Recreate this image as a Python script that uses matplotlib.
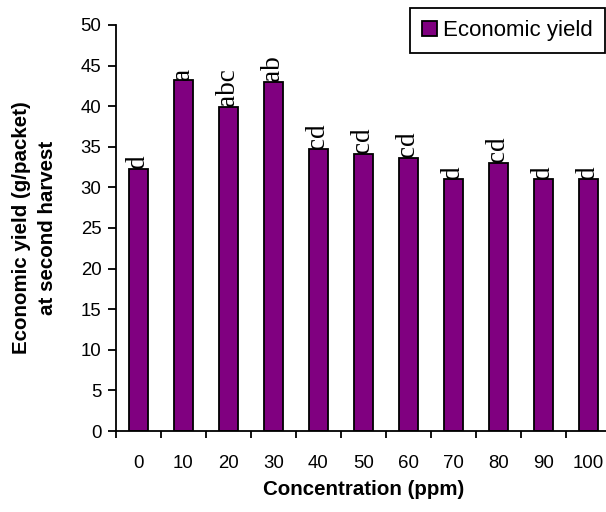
import matplotlib
matplotlib.use("Agg")
import matplotlib.pyplot as plt
import numpy as np

# values
concentrations = ["0", "10", "20", "30", "40", "50", "60", "70", "80", "90", "100"]
yield_values = [32.3, 43.2, 39.9, 43.0, 34.7, 34.1, 33.6, 31.0, 33.0, 31.0, 31.0]
letters = ["d", "a", "abc", "ab", "cd", "cd", "cd", "d", "cd", "d", "d"]
y_ticks = [0, 5, 10, 15, 20, 25, 30, 35, 40, 45, 50]

sans = "Liberation Sans"
serif = "Liberation Serif"

fig = plt.figure(figsize=(6.06, 5.12), dpi=100)
# axes runs slightly past the right edge, as in the cropped original
ax = fig.add_axes([116 / 606, 1 - 431 / 512, 495 / 606, 406 / 512])

x = np.arange(len(concentrations))
bars = ax.bar(x, yield_values, width=0.41, color="#800080", edgecolor="black",
              linewidth=1.3, label="Economic yield", zorder=2)

for xi, val, lab in zip(x, yield_values, letters):
    ax.annotate(lab, (xi, val), xytext=(-1, 0.5), textcoords="offset points",
                rotation=90, ha="center", va="bottom",
                fontsize=19.5, family=serif)

ax.set_xlim(-0.5, len(concentrations) - 0.5)
ax.set_ylim(0, 50)
ax.set_yticks(y_ticks)
ax.set_yticklabels([str(t) for t in y_ticks], fontsize=13.4, family=sans)
ax.set_xticks(x)
ax.set_xticklabels(concentrations, fontsize=13.4, family=sans)
ax.set_xticks(np.arange(len(concentrations)) - 0.5, minor=True)
ax.tick_params(axis="x", which="major", length=0, pad=17)
ax.tick_params(axis="x", which="minor", length=5, width=1.3, direction="out")
ax.tick_params(axis="y", length=5.5, width=1.3, pad=5)

for side in ["top", "right"]:
    ax.spines[side].set_visible(False)
for side in ["left", "bottom"]:
    ax.spines[side].set_linewidth(1.3)

ax.set_xlabel("Concentration (ppm)", fontsize=14.8, fontweight="bold",
              family=sans, labelpad=6)
ax.set_ylabel("Economic yield (g/packet)\nat second harvest", fontsize=14.8,
              fontweight="bold", family=sans, linespacing=1.45, labelpad=17)

leg = fig.legend(loc="upper right", bbox_to_anchor=(605 / 606, 1 - 8 / 512),
                 prop={"family": sans, "size": 16}, frameon=True,
                 fancybox=False, edgecolor="black", framealpha=1,
                 handlelength=0.7, handleheight=0.7, handletextpad=0.25,
                 borderpad=0.55, borderaxespad=0)
leg.get_frame().set_linewidth(1.3)
for h in leg.legend_handles:
    h.set_linewidth(1.3)

fig.savefig("out.png", dpi=100)
